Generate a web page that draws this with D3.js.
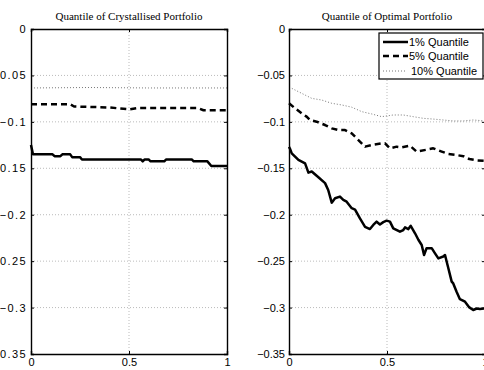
<!DOCTYPE html>
<html><head><meta charset="utf-8">
<script src="https://cdn.jsdelivr.net/npm/d3@7/dist/d3.min.js"></script>
<style>
html,body{margin:0;padding:0;background:#fff;overflow:hidden}
svg{display:block}
</style></head>
<body>
<svg id="chart" width="484" height="370"></svg>
<script>
// ---- data ----
const titles = ["Quantile of Crystallised Portfolio", "Quantile of Optimal Portfolio"];
const seriesNames = ["1% Quantile", "5% Quantile", "10% Quantile"];
const yTicks = [0, -0.05, -0.1, -0.15, -0.2, -0.25, -0.3, -0.35];
const xTicks = [0, 0.5, 1];

// Crystallised portfolio
const crysX1 = [0, 0.01, 0.11, 0.12, 0.15, 0.16, 0.2, 0.21, 0.25, 0.26, 0.56, 0.57, 0.58, 0.6, 0.61, 0.68, 0.69, 0.82, 0.83, 0.9, 0.92, 1];
const crysY1 = [-0.125, -0.135, -0.135, -0.137, -0.137, -0.135, -0.135, -0.138, -0.138, -0.1405, -0.1405, -0.1425, -0.1405, -0.1405, -0.1425, -0.1425, -0.1405, -0.1405, -0.1425, -0.1425, -0.1475, -0.1475];
const crysX5 = [0, 0.2, 0.22, 0.4, 0.5, 0.55, 0.85, 0.88, 1];
const crysY5 = [-0.081, -0.081, -0.0835, -0.0845, -0.0865, -0.085, -0.085, -0.0875, -0.0875];
const crysX10 = [0, 0.3, 0.6, 1];
const crysY10 = [-0.0635, -0.063, -0.0635, -0.0635];

// Optimal portfolio
const optX1 = [0, 0.005, 0.014, 0.048, 0.082, 0.099, 0.116, 0.15, 0.184, 0.2, 0.218, 0.235, 0.26, 0.277, 0.294, 0.32, 0.337, 0.362, 0.388, 0.413, 0.43, 0.447, 0.464, 0.481, 0.498, 0.515, 0.532, 0.566, 0.583, 0.592, 0.609, 0.621, 0.643, 0.66, 0.677, 0.689, 0.702, 0.728, 0.745, 0.762, 0.787, 0.796, 0.813, 0.83, 0.838, 0.855, 0.872, 0.898, 0.92, 0.94, 0.958, 0.974, 1];
const optY1 = [-0.127, -0.129, -0.134, -0.141, -0.1447, -0.1547, -0.1535, -0.1597, -0.166, -0.1734, -0.187, -0.1823, -0.1805, -0.184, -0.186, -0.193, -0.1945, -0.204, -0.213, -0.2154, -0.211, -0.2075, -0.2105, -0.208, -0.2064, -0.2075, -0.2147, -0.2183, -0.2165, -0.2136, -0.2155, -0.212, -0.22, -0.227, -0.2326, -0.2434, -0.236, -0.236, -0.2416, -0.247, -0.245, -0.2434, -0.2577, -0.272, -0.274, -0.283, -0.291, -0.2937, -0.2998, -0.3026, -0.301, -0.3015, -0.301];
const optX5 = [0, 0.031, 0.065, 0.09, 0.107, 0.141, 0.184, 0.218, 0.252, 0.286, 0.32, 0.345, 0.388, 0.422, 0.473, 0.49, 0.515, 0.549, 0.575, 0.617, 0.651, 0.702, 0.736, 0.779, 0.813, 0.854, 0.89, 0.92, 0.96, 1];
const optY5 = [-0.080, -0.0854, -0.0908, -0.0944, -0.098, -0.0998, -0.1034, -0.107, -0.1088, -0.1088, -0.1124, -0.1177, -0.1267, -0.1249, -0.1231, -0.1231, -0.1285, -0.1267, -0.1275, -0.1257, -0.132, -0.130, -0.1285, -0.132, -0.1346, -0.1357, -0.137, -0.140, -0.1415, -0.142];
const optX10 = [0, 0.014, 0.065, 0.116, 0.167, 0.218, 0.269, 0.32, 0.371, 0.422, 0.473, 0.532, 0.583, 0.634, 0.685, 0.736, 0.787, 0.838, 0.889, 0.94, 1];
const optY10 = [-0.063, -0.0639, -0.0693, -0.0747, -0.0765, -0.080, -0.0818, -0.0842, -0.089, -0.0915, -0.0944, -0.0926, -0.0926, -0.0944, -0.0962, -0.097, -0.098, -0.099, -0.099, -0.098, -0.099];

const panelData = [
  [[crysX1, crysY1], [crysX5, crysY5], [crysX10, crysY10]],
  [[optX1, optY1], [optX5, optY5], [optX10, optY10]]
];

// ---- styles ----
const styles = [
  {stroke: "#000", width: 2.5, dash: null},
  {stroke: "#000", width: 2.5, dash: "6,4"},
  {stroke: "#777", width: 1, dash: "1,2"}
];
const panelLeft = [31, 289];
const panelW = 196;
const plotTop = 29, plotBottom = 354;
const sansFont = "'Liberation Sans', Arial, Helvetica, sans-serif";
const serifFont = "'Liberation Serif', 'Times New Roman', serif";

const svg = d3.select("#chart");
const fmt = v => (v === 0 ? "0" : (v < 0 ? "\u2212" : "") + String(Math.abs(v)));

panelData.forEach((series, pi) => {
  const x = d3.scaleLinear().domain([0, 1]).range([panelLeft[pi], panelLeft[pi] + panelW]);
  const y = d3.scaleLinear().domain([-0.35, 0]).range([plotBottom, plotTop]);
  const g = svg.append("g");

  // grid
  g.selectAll(".gy").data(yTicks.filter(t => t !== 0 && t !== -0.35)).join("line")
    .attr("x1", x(0)).attr("x2", x(1)).attr("y1", d => y(d)).attr("y2", d => y(d))
    .attr("stroke", "#aaa").attr("stroke-width", 0.8).attr("stroke-dasharray", "1,2");
  g.selectAll(".gx").data(xTicks.filter(t => t !== 0 && t !== 1)).join("line")
    .attr("x1", d => x(d)).attr("x2", d => x(d)).attr("y1", plotTop).attr("y2", plotBottom)
    .attr("stroke", "#aaa").attr("stroke-width", 0.8).attr("stroke-dasharray", "1,2");

  // lines
  series.forEach(([xs, ys], si) => {
    const pts = xs.map((v, i) => [v, ys[i]]);
    const st = styles[si];
    g.append("path").datum(pts)
      .attr("d", d3.line().x(d => x(d[0])).y(d => y(d[1])))
      .attr("fill", "none").attr("stroke", st.stroke).attr("stroke-width", st.width)
      .attr("stroke-dasharray", st.dash).attr("stroke-linejoin", "round");
  });

  // axes (inward ticks)
  const ay = d3.axisLeft(y).tickValues(yTicks).tickSize(-3).tickPadding(4).tickFormat(fmt);
  const ax = d3.axisBottom(x).tickValues(xTicks).tickSize(-3).tickPadding(5).tickFormat(d => String(d));
  const gy = g.append("g").attr("transform", `translate(${x(0)},0)`).call(ay);
  const gx = g.append("g").attr("transform", `translate(0,${plotBottom})`).call(ax);
  const gyr = g.append("g").attr("transform", `translate(${x(1)},0)`).call(d3.axisRight(y).tickValues(yTicks).tickSize(-3).tickFormat(""));
  const gxt = g.append("g").attr("transform", `translate(0,${plotTop})`).call(d3.axisTop(x).tickValues(xTicks).tickSize(-3).tickFormat(""));
  [gy, gx, gyr, gxt].forEach(a => {
    a.select(".domain").attr("stroke", "#000").attr("stroke-width", 1.4);
    a.selectAll(".tick line").attr("stroke", "#000");
    a.selectAll("text").attr("font-family", sansFont).attr("font-size", 11).attr("fill", "#000");
  });
  gx.selectAll("text").attr("dy", "0.6em");
  if (pi === 0) gy.selectAll("text").attr("letter-spacing", 1.4);

  // title
  g.append("text").attr("x", x(0.5)).attr("y", 20).attr("text-anchor", "middle")
    .attr("font-family", serifFont).attr("font-size", 11).text(titles[pi]);

  // legend
  if (pi === 1) {
    const lg = g.append("g");
    lg.append("rect").attr("x", 379).attr("y", 33).attr("width", 104).attr("height", 46)
      .attr("fill", "#fff").attr("stroke", "#000").attr("stroke-width", 1.2);
    const rowsY = [42, 56, 71];
    seriesNames.forEach((name, i) => {
      const st = styles[i];
      lg.append("line").attr("x1", 383).attr("x2", i === 2 ? 405 : 408)
        .attr("y1", rowsY[i]).attr("y2", rowsY[i])
        .attr("stroke", st.stroke).attr("stroke-width", st.width).attr("stroke-dasharray", st.dash);
      lg.append("text").attr("x", i === 2 ? 411 : 409).attr("y", rowsY[i]).attr("dy", "0.35em")
        .attr("font-family", sansFont).attr("font-size", 11).text(name);
    });
  }
});
</script>
</body></html>
